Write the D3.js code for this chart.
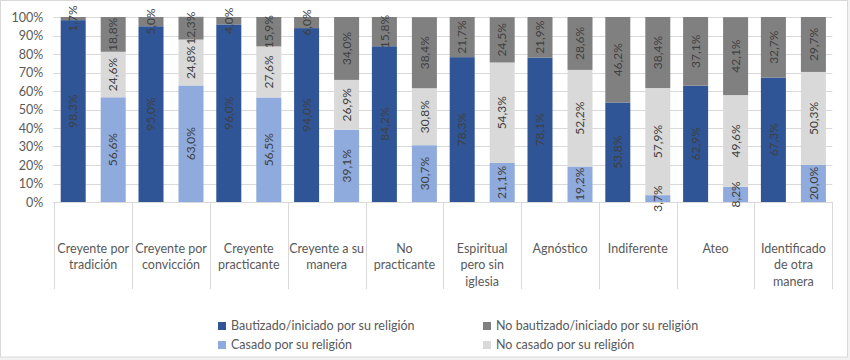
<!DOCTYPE html>
<html>
<head>
<meta charset="utf-8">
<script src="https://cdn.jsdelivr.net/npm/d3@7"></script>
<style>
  body { margin: 0; background: #f2f2f2; }
  svg { display: block; font-family: Lato, "Liberation Sans", sans-serif; }
</style>
</head>
<body>
<div id="chart"></div>
<script>
// categories (line breaks as in the original axis)
const categories = [
  "Creyente por\ntradición", "Creyente por\nconvicción", "Creyente\npracticante",
  "Creyente a su\nmanera", "No\npracticante", "Espiritual\npero sin\niglesia",
  "Agnóstico", "Indiferente", "Ateo", "Identificado\nde otra\nmanera"
];

// bar 1: baptism
const bautizado   = [98.3, 95.0, 96.0, 94.0, 84.2, 78.3, 78.1, 53.8, 62.9, 67.3];
const noBautizado = [1.7, 5.0, 4.0, 6.0, 15.8, 21.7, 21.9, 46.2, 37.1, 32.7];

// bar 2: marriage
const casado   = [56.6, 63.0, 56.5, 39.1, 30.7, 21.1, 19.2, 3.7, 8.2, 20.0];
const noCasado = [24.6, 24.8, 27.6, 26.9, 30.8, 54.3, 52.2, 57.9, 49.6, 50.3];
const restoMatrimonio = [18.8, 12.3, 15.9, 34.0, 38.4, 24.5, 28.6, 38.4, 42.1, 29.7];

const yTicks = [0, 10, 20, 30, 40, 50, 60, 70, 80, 90, 100];

const colors = {
  bautizado: "#2f5597",
  noBautizado: "#808080",
  casado: "#8faadc",
  noCasado: "#d9d9d9"
};

const width = 850, height = 360;
const plot = { left: 54.3, right: 832.3, top: 17, bottom: 202 };

const svg = d3.select("#chart").append("svg")
  .attr("width", width)
  .attr("height", height);

// chart area
svg.append("rect")
  .attr("x", 0.5).attr("y", 0.5)
  .attr("width", 847).attr("height", 356.5)
  .attr("fill", "#fff")
  .attr("stroke", "#d9d9d9");

const x = d3.scaleBand()
  .domain(categories)
  .range([plot.left, plot.right])
  .padding(0);

const xInner = d3.scaleBand()
  .domain(["bautismo", "matrimonio"])
  .range([0, x.bandwidth()])
  .paddingInner(0.375)
  .paddingOuter(0.16);

const y = d3.scaleLinear()
  .domain([0, 100])
  .range([plot.bottom, plot.top]);

// gridlines
svg.append("g")
  .selectAll("line")
  .data(yTicks)
  .join("line")
  .attr("x1", plot.left - 1)
  .attr("x2", plot.right)
  .attr("y1", d => Math.round(y(d)) + 0.5)
  .attr("y2", d => Math.round(y(d)) + 0.5)
  .attr("stroke", "#d9d9d9");

// y axis labels
const yAxis = svg.append("g")
  .attr("transform", `translate(${plot.left},0)`)
  .call(d3.axisLeft(y).tickValues(yTicks).tickFormat(d => d + "%").tickSize(0).tickPadding(11));
yAxis.select(".domain").remove();
yAxis.selectAll("text")
  .attr("font-family", "Lato, sans-serif")
  .attr("font-size", 12.5)
  .attr("fill", "#595959");

// category separators
const bounds = categories.map(c => x(c)).concat([plot.right]);
svg.append("g")
  .selectAll("line")
  .data(bounds)
  .join("line")
  .attr("x1", d => Math.round(d) + 0.5)
  .attr("x2", d => Math.round(d) + 0.5)
  .attr("y1", plot.bottom)
  .attr("y2", 289)
  .attr("stroke", "#d9d9d9");

// category labels
const catLabels = svg.append("g")
  .selectAll("text")
  .data(categories)
  .join("text")
  .attr("text-anchor", "middle")
  .attr("font-size", 12.5)
  .attr("fill", "#595959")
  .attr("x", d => x(d) + x.bandwidth() / 2)
  .attr("y", 252.5);
catLabels.selectAll("tspan")
  .data(d => d.split("\n"))
  .join("tspan")
  .attr("x", function () { return this.parentNode.getAttribute("x"); })
  .attr("dy", (d, i) => i === 0 ? 0 : 16.5)
  .text(d => d);

// build stacked segments
const segments = [];
categories.forEach((c, i) => {
  const stacks = [
    ["bautismo", [[bautizado[i], colors.bautizado], [noBautizado[i], colors.noBautizado]]],
    ["matrimonio", [[casado[i], colors.casado], [noCasado[i], colors.noCasado], [restoMatrimonio[i], colors.noBautizado]]]
  ];
  stacks.forEach(([bar, parts]) => {
    let base = 0;
    parts.forEach(([v, col]) => {
      segments.push({ cat: c, bar, y0: base, y1: base + v, value: v, color: col });
      base += v;
    });
  });
});

const fmt = v => v.toFixed(1).replace(".", ",") + "%";

svg.append("g")
  .selectAll("rect")
  .data(segments)
  .join("rect")
  .attr("x", d => x(d.cat) + xInner(d.bar))
  .attr("width", xInner.bandwidth())
  .attr("y", d => y(d.y1))
  .attr("height", d => y(d.y0) - y(d.y1))
  .attr("fill", d => d.color);

// value labels, rotated
svg.append("g")
  .selectAll("text")
  .data(segments)
  .join("text")
  .attr("transform", d => {
    const cx = x(d.cat) + xInner(d.bar) + xInner.bandwidth() / 2;
    const cy = y((d.y0 + d.y1) / 2);
    return `translate(${cx},${cy}) rotate(-90)`;
  })
  .attr("text-anchor", "middle")
  .attr("dy", "0.35em")
  .attr("font-size", 12)
  .attr("fill", "#404040")
  .text(d => fmt(d.value));

// legend
const legendItems = [
  { label: "Bautizado/iniciado por su religión", color: colors.bautizado, col: 0, row: 0 },
  { label: "No bautizado/iniciado por su religión", color: colors.noBautizado, col: 1, row: 0 },
  { label: "Casado por su religión", color: colors.casado, col: 0, row: 1 },
  { label: "No casado por su religión", color: colors.noCasado, col: 1, row: 1 }
];
const legend = svg.append("g")
  .selectAll("g")
  .data(legendItems)
  .join("g")
  .attr("transform", d => `translate(${d.col ? 483 : 218},${d.row ? 345 : 326})`);
legend.append("rect")
  .attr("x", 0).attr("y", -4)
  .attr("width", 8).attr("height", 8)
  .attr("fill", d => d.color);
legend.append("text")
  .attr("x", 13)
  .attr("dy", "0.35em")
  .attr("font-size", 12.5)
  .attr("fill", "#595959")
  .text(d => d.label);
</script>
</body>
</html>
